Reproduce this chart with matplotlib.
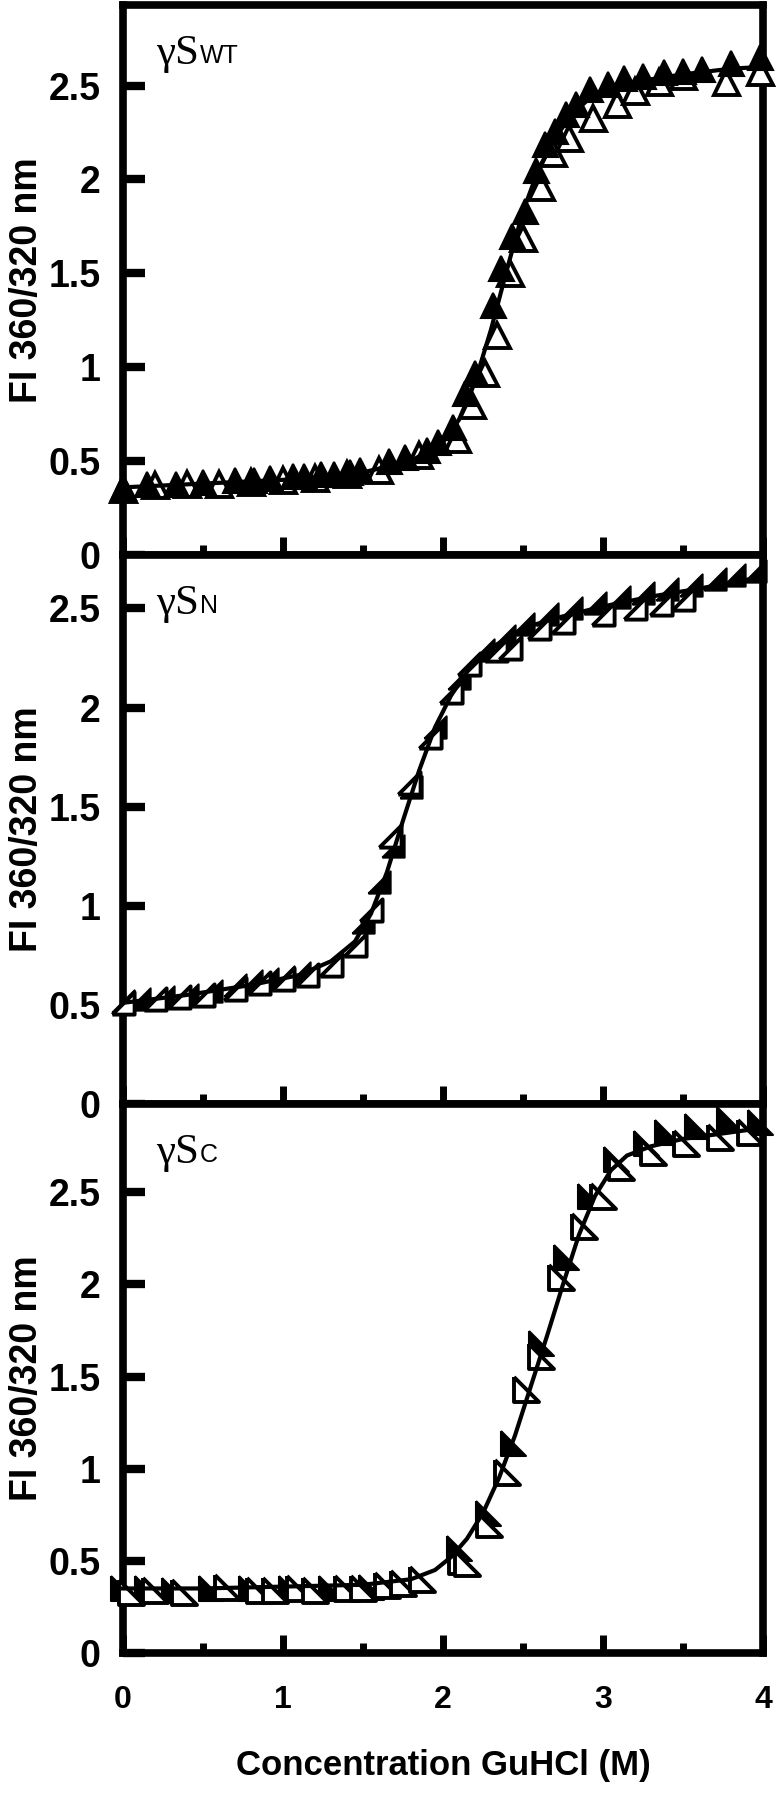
"""
GuHCl unfolding curves (FI 360/320 nm) for gammaS WT, N-terminal and C-terminal domains.
"""

import matplotlib
matplotlib.use("Agg")
import matplotlib.pyplot as plt
from matplotlib.ticker import MultipleLocator, FuncFormatter

# --------------------------------------------------
# DATA
# --------------------------------------------------
# gammaS WT
wt_filled_x = [0.0, 0.15, 0.33, 0.5, 0.7, 0.82, 0.92, 1.06, 1.13, 1.24, 1.32, 1.42, 1.48,
               1.66, 1.76, 1.9, 1.97, 2.06, 2.14, 2.2, 2.31, 2.36, 2.43, 2.51, 2.58, 2.64,
               2.7, 2.77, 2.83, 2.92, 3.03, 3.13, 3.25, 3.38, 3.5, 3.62, 3.8, 3.98]
wt_filled_y = [0.36, 0.38, 0.38, 0.39, 0.40, 0.40, 0.41, 0.42, 0.42, 0.43, 0.43, 0.44, 0.45,
               0.50, 0.52, 0.56, 0.60, 0.68, 0.86, 0.97, 1.33, 1.53, 1.70, 1.83, 2.05, 2.19,
               2.26, 2.35, 2.40, 2.48, 2.51, 2.54, 2.55, 2.57, 2.58, 2.59, 2.62, 2.65]
wt_open_x = [0.0, 0.2, 0.4, 0.6, 0.8, 1.0, 1.2, 1.4, 1.6, 1.85, 2.09, 2.18, 2.26, 2.34,
             2.42, 2.5, 2.61, 2.69, 2.79, 2.94, 3.09, 3.2, 3.35, 3.5, 3.77, 3.98]
wt_open_y = [0.35, 0.37, 0.38, 0.38, 0.39, 0.40, 0.41, 0.43, 0.45, 0.53, 0.62, 0.80, 0.97, 1.17,
             1.50, 1.69, 1.96, 2.14, 2.22, 2.33, 2.40, 2.47, 2.52, 2.55, 2.52, 2.57]
wt_fit_x = [0.0, 0.5, 1.0, 1.5, 1.8, 2.0, 2.1, 2.2, 2.3, 2.4, 2.5, 2.6, 2.7, 2.8, 2.9,
            3.0, 3.2, 3.5, 3.8, 4.0]
wt_fit_y = [0.36, 0.38, 0.40, 0.44, 0.50, 0.60, 0.72, 0.92, 1.20, 1.52, 1.83, 2.06, 2.22,
            2.34, 2.42, 2.47, 2.52, 2.56, 2.59, 2.60]

# gammaS N-terminal domain
n_filled_x = [0.0, 0.1, 0.25, 0.4, 0.55, 0.7, 0.8, 0.9, 1.0, 1.1, 1.5, 1.6, 1.69, 1.8, 1.95,
              2.1, 2.25, 2.38, 2.5, 2.65, 2.8, 2.95, 3.1, 3.25, 3.4, 3.55, 3.7, 3.82, 3.95]
n_filled_y = [0.52, 0.53, 0.54, 0.55, 0.57, 0.60, 0.62, 0.63, 0.64, 0.66, 0.92, 1.12, 1.30,
              1.60, 1.90, 2.15, 2.29, 2.36, 2.42, 2.47, 2.50, 2.53, 2.56, 2.58, 2.60, 2.62,
              2.65, 2.67, 2.69]
n_open_x = [0.0, 0.2, 0.35, 0.5, 0.7, 0.85, 1.0, 1.15, 1.3, 1.45, 1.55, 1.67, 1.79, 1.92,
            2.05, 2.16, 2.33, 2.42, 2.6, 2.75, 3.0, 3.2, 3.36, 3.5]
n_open_y = [0.51, 0.53, 0.54, 0.55, 0.58, 0.61, 0.63, 0.65, 0.70, 0.80, 0.98, 1.35, 1.62, 1.85,
            2.08, 2.22, 2.29, 2.30, 2.40, 2.43, 2.47, 2.50, 2.52, 2.55]
n_fit_x = [0.0, 0.4, 0.8, 1.1, 1.3, 1.45, 1.55, 1.65, 1.75, 1.85, 1.95, 2.05, 2.15, 2.3,
           2.5, 2.7, 3.0, 3.3, 3.6, 4.0]
n_fit_y = [0.51, 0.55, 0.60, 0.65, 0.72, 0.82, 0.96, 1.17, 1.43, 1.68, 1.90, 2.06, 2.18,
           2.30, 2.40, 2.45, 2.51, 2.56, 2.60, 2.66]

# gammaS C-terminal domain
c_filled_x = [0.0, 0.15, 0.32, 0.55, 0.8, 1.05, 1.3, 1.55, 1.75, 2.1, 2.28, 2.44, 2.61,
              2.77, 2.92, 3.08, 3.27, 3.4, 3.59, 3.79, 3.98]
c_filled_y = [0.35, 0.35, 0.34, 0.35, 0.35, 0.35, 0.35, 0.36, 0.38, 0.57, 0.76, 1.14, 1.68,
              2.15, 2.48, 2.68, 2.77, 2.83, 2.86, 2.90, 2.88]
c_open_x = [0.05, 0.2, 0.38, 0.65, 0.85, 0.95, 1.1, 1.2, 1.4, 1.5, 1.65, 1.75, 1.87, 2.11,
            2.15, 2.29, 2.4, 2.52, 2.61, 2.74, 2.88, 3.0, 3.11, 3.31, 3.52, 3.73, 3.92]
c_open_y = [0.33, 0.34, 0.33, 0.36, 0.34, 0.34, 0.35, 0.34, 0.35, 0.35, 0.37, 0.38, 0.40, 0.50,
            0.49, 0.70, 0.98, 1.43, 1.61, 2.04, 2.32, 2.48, 2.64, 2.72, 2.77, 2.80, 2.83]
c_fit_x = [0.0, 0.5, 1.0, 1.5, 1.8, 1.95, 2.05, 2.15, 2.25, 2.35, 2.45, 2.55, 2.65, 2.75,
           2.85, 2.95, 3.05, 3.15, 3.3, 3.5, 3.75, 4.0]
c_fit_y = [0.35, 0.35, 0.36, 0.37, 0.40, 0.45, 0.52, 0.62, 0.76, 0.95, 1.18, 1.45, 1.72, 2.00,
           2.27, 2.48, 2.62, 2.70, 2.75, 2.79, 2.82, 2.85]

panel_names = ["WT", "N", "C"]
panel_ymax = [2.93, 2.77, 2.98]

# --------------------------------------------------
# STYLE
# --------------------------------------------------
plt.rcParams["font.family"] = ["Liberation Sans", "DejaVu Sans"]
plt.rcParams["font.weight"] = "bold"

SPINE_W = 5.5
TRI_DOWN_RIGHT = [(-1, -1), (1, -1), (1, 1), (-1, -1)]   # middle panel markers
TRI_DOWN_LEFT = [(-1, 1), (-1, -1), (1, -1), (-1, 1)]    # bottom panel markers

panels = [
    (wt_filled_x, wt_filled_y, wt_open_x, wt_open_y, wt_fit_x, wt_fit_y, "^", 18),
    (n_filled_x, n_filled_y, n_open_x, n_open_y, n_fit_x, n_fit_y, TRI_DOWN_RIGHT, 16),
    (c_filled_x, c_filled_y, c_open_x, c_open_y, c_fit_x, c_fit_y, TRI_DOWN_LEFT, 18),
]

rects = [
    [0.1585, 0.6917, 0.8247, 0.3056],
    [0.1585, 0.3867, 0.8247, 0.3050],
    [0.1585, 0.0817, 0.8247, 0.3050],
]

fig = plt.figure(figsize=(7.76, 18), dpi=100)

for i, (fx, fy, ox, oy, lx, ly, marker, ms) in enumerate(panels):
    ax = fig.add_axes(rects[i])

    open_kw = dict(linestyle="none", marker=marker, ms=ms, mfc="white", mec="black",
                   mew=2.8, clip_on=False)
    fill_kw = dict(linestyle="none", marker=marker, ms=ms, mfc="black", mec="black",
                   mew=1.5, clip_on=False)
    if i == 0:
        ax.plot(ox, oy, zorder=3, **open_kw)
        ax.plot(fx, fy, zorder=4, **fill_kw)
    else:
        ax.plot(fx, fy, zorder=3, **fill_kw)
        ax.plot(ox, oy, zorder=4, **open_kw)
    ax.plot(lx, ly, color="black", lw=3.0, zorder=5, clip_on=False)

    ax.set_xlim(0, 4)
    ax.set_ylim(0, panel_ymax[i])

    for sp in ax.spines.values():
        sp.set_linewidth(SPINE_W)

    ax.xaxis.set_major_locator(MultipleLocator(1))
    ax.xaxis.set_minor_locator(MultipleLocator(0.5))
    ax.yaxis.set_major_locator(MultipleLocator(0.5))
    ax.yaxis.set_major_formatter(FuncFormatter(lambda v, p: "%g" % v))

    ax.tick_params(axis="x", which="major", direction="in", length=13, width=5,
                   top=False, pad=23, labelsize=23)
    ax.tick_params(axis="x", which="minor", direction="in", length=7, width=5, top=False)
    ax.tick_params(axis="y", which="major", direction="in", length=16, width=6,
                   right=False, pad=16, labelsize=27)
    ax.tick_params(axis="y", which="minor", left=False, right=False)

    if i < 2:
        ax.tick_params(axis="x", labelbottom=False)
    else:
        ax.set_xlabel("Concentration GuHCl (M)", fontweight="bold", fontsize=25)
        ax.xaxis.set_label_coords(0.5, -0.175)

    ax.set_ylabel("FI 360/320 nm", fontweight="bold", fontsize=27)
    ax.yaxis.set_label_coords(-0.122, 0.5)

    # panel label: gamma S with small sans-serif subscript
    t = ax.text(0.052, 0.893, "\u03b3S", transform=ax.transAxes,
                fontfamily="Liberation Serif", fontweight="normal", fontsize=31,
                va="baseline", ha="left")
    ax.annotate(panel_names[i], xy=(1, 0), xycoords=t, xytext=(0.5, 6.8),
                textcoords="offset points", fontweight="normal",
                fontsize=18, va="baseline", ha="left")

plt.savefig("out.png", dpi=100)
